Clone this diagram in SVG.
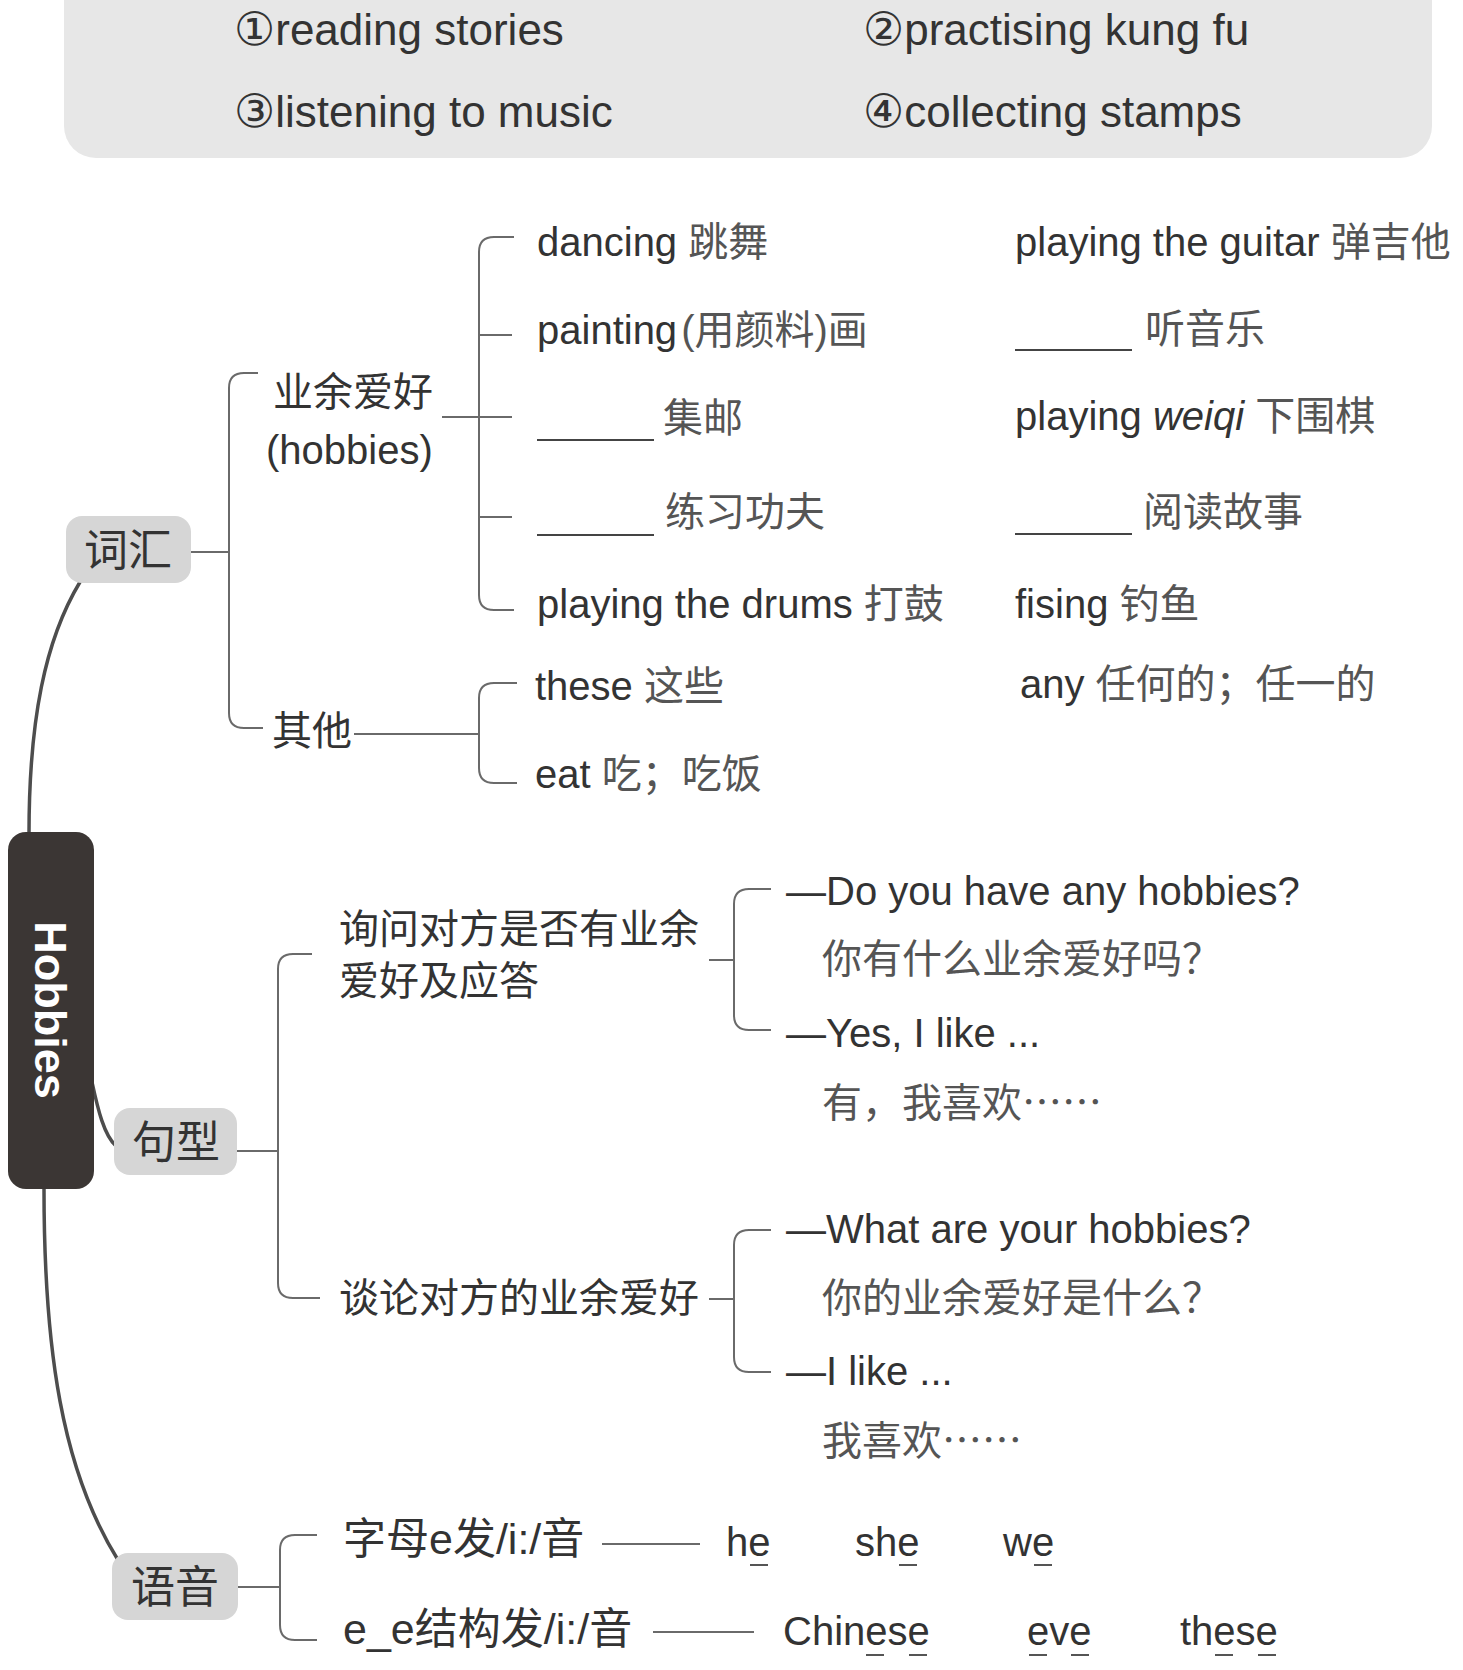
<svg xmlns="http://www.w3.org/2000/svg" width="1463" height="1670" viewBox="0 0 1463 1670" lang="zh-CN">
<style>
.t{font-family:"Liberation Sans","Noto Sans CJK SC",sans-serif;font-size:40px;fill:#333}
.zh{fill:#555}
.cjk{font-family:"Noto Sans CJK SC",sans-serif}
.top{font-size:44px}
.num{font-family:"DejaVu Sans",sans-serif;font-size:46px}
.nd{font-size:44px;text-anchor:middle;fill:#333}
.ph{font-size:43px}
.br{fill:none;stroke:#6a6a6a;stroke-width:2}
.main{fill:none;stroke:#4d4d4d;stroke-width:3.5;stroke-linecap:round}
.blank{stroke:#444;stroke-width:2}
.ul{stroke:#555;stroke-width:2}
.box{fill:#d6d6d6}
</style>
<rect width="1463" height="1670" fill="#ffffff"/>

<g id="top-options">
<rect x="64" y="-30" width="1368" height="188" rx="32" fill="#e7e7e7"/>
<text class="t top" x="234" y="45"><tspan class="num">①</tspan>reading stories</text>
<text class="t top" x="863" y="45"><tspan class="num">②</tspan>practising kung fu</text>
<text class="t top" x="234" y="127"><tspan class="num">③</tspan>listening to music</text>
<text class="t top" x="863" y="127"><tspan class="num">④</tspan>collecting stamps</text>
</g>

<g id="connectors">
<path class="main" d="M29 834 C29 720 45 640 80 582"/>
<path class="main" d="M92 1082 C98 1110 104 1135 116 1146"/>
<path class="main" d="M44 1189 C44 1350 62 1470 118 1560"/>
<path class="br" d="M191 552 L229 552"/>
<path class="br" d="M258 373 L244 373 Q229 373 229 388 L229 713 Q229 728 244 728 L263 728"/>
<path class="br" d="M442 417 L512 417"/>
<path class="br" d="M514 237 L494 237 Q479 237 479 252 L479 595 Q479 610 494 610 L514 610"/>
<path class="br" d="M479 335 L512 335 M479 517 L512 517"/>
<path class="br" d="M354 734 L479 734"/>
<path class="br" d="M517 683 L494 683 Q479 683 479 698 L479 768 Q479 783 494 783 L517 783"/>
<path class="br" d="M237 1151 L278 1151"/>
<path class="br" d="M312 954 L293 954 Q278 954 278 969 L278 1283 Q278 1298 293 1298 L320 1298"/>
<path class="br" d="M709 960 L734 960"/>
<path class="br" d="M771 889 L749 889 Q734 889 734 904 L734 1015 Q734 1030 749 1030 L771 1030"/>
<path class="br" d="M709 1299 L734 1299"/>
<path class="br" d="M771 1230 L749 1230 Q734 1230 734 1245 L734 1357 Q734 1372 749 1372 L771 1372"/>
<path class="br" d="M238 1587 L280 1587"/>
<path class="br" d="M317 1535 L295 1535 Q280 1535 280 1550 L280 1625 Q280 1640 295 1640 L317 1640"/>
<path class="br" d="M602 1544 L700 1544"/>
<path class="br" d="M653 1632 L754 1632"/>
</g>

<g id="node-hobbies">
<rect x="8" y="832" width="86" height="357" rx="18" fill="#3b3634"/>
<text transform="translate(35,1010) rotate(90)" text-anchor="middle" font-family="Liberation Sans, Arial, sans-serif" font-weight="bold" font-size="45" fill="#ffffff">Hobbies</text>
</g>

<g id="node-cihui">
<rect class="box" x="66" y="516" width="125" height="67" rx="16"/>
<text class="t nd" x="128" y="566">词汇</text>
</g>
<g id="node-juxing">
<rect class="box" x="114" y="1108" width="123" height="67" rx="16"/>
<text class="t nd" x="176" y="1158">句型</text>
</g>
<g id="node-yuyin">
<rect class="box" x="112" y="1553" width="126" height="67" rx="16"/>
<text class="t nd" x="175" y="1603">语音</text>
</g>

<g id="node-hobbies-vocab">
<text class="t" x="273" y="406">业余爱好</text>
<text class="t" x="266" y="464">(hobbies)</text>
</g>
<g id="node-others">
<text class="t" x="272" y="745">其他</text>
</g>

<g id="vocab-items">
<text class="t" x="537" y="256">dancing <tspan class="zh">跳舞</tspan></text>
<text class="t" x="537" y="344">painting<tspan class="zh" dx="4">(用颜料)画</tspan></text>
<line class="blank" x1="537" y1="440" x2="654" y2="440"/>
<text class="t zh" x="663" y="432">集邮</text>
<line class="blank" x1="537" y1="535" x2="654" y2="535"/>
<text class="t zh" x="665" y="526">练习功夫</text>
<text class="t" x="537" y="618">playing the drums <tspan class="zh">打鼓</tspan></text>

<text class="t" x="1015" y="256">playing the guitar <tspan class="zh">弹吉他</tspan></text>
<line class="blank" x1="1015" y1="350" x2="1132" y2="350"/>
<text class="t zh" x="1145" y="343">听音乐</text>
<text class="t" x="1015" y="430">playing <tspan font-style="italic">weiqi</tspan> <tspan class="zh">下围棋</tspan></text>
<line class="blank" x1="1015" y1="534" x2="1132" y2="534"/>
<text class="t zh" x="1143" y="526">阅读故事</text>
<text class="t" x="1015" y="618">fising <tspan class="zh">钓鱼</tspan></text>

<text class="t" x="535" y="700">these <tspan class="zh">这些</tspan></text>
<text class="t" x="535" y="788">eat <tspan class="zh">吃；吃饭</tspan></text>
<text class="t" x="1020" y="698">any <tspan class="zh">任何的；任一的</tspan></text>
</g>

<g id="node-ask">
<text class="t" x="339" y="943">询问对方是否有业余</text>
<text class="t" x="339" y="995">爱好及应答</text>
</g>
<g id="node-talk">
<text class="t" x="339" y="1312">谈论对方的业余爱好</text>
</g>

<g id="sentences">
<text class="t" x="786" y="905">—Do you have any hobbies?</text>
<text class="t zh" x="822" y="973">你有什么业余爱好吗？</text>
<text class="t" x="786" y="1047">—Yes, I like ...</text>
<text class="t zh" x="822" y="1117">有，我喜欢<tspan class="cjk">……</tspan></text>
<text class="t" x="786" y="1243">—What are your hobbies?</text>
<text class="t zh" x="822" y="1312">你的业余爱好是什么？</text>
<text class="t" x="786" y="1385">—I like ...</text>
<text class="t zh" x="822" y="1455">我喜欢<tspan class="cjk">……</tspan></text>
</g>

<g id="phonics">
<text class="t ph" x="343" y="1554">字母e发/i:/音</text>
<text class="t ph" x="343" y="1644">e_e结构发/i:/音</text>
<text class="t" x="726" y="1556">he</text>
<text class="t" x="855" y="1556">she</text>
<text class="t" x="1003" y="1556">we</text>
<line class="ul" x1="750" y1="1565" x2="768" y2="1565"/>
<line class="ul" x1="899" y1="1565" x2="917" y2="1565"/>
<line class="ul" x1="1034" y1="1565" x2="1052" y2="1565"/>
<text class="t" x="783" y="1645">Chinese</text>
<text class="t" x="1027" y="1645">eve</text>
<text class="t" x="1180" y="1645">these</text>
<line class="ul" x1="866" y1="1655" x2="884" y2="1655"/>
<line class="ul" x1="909" y1="1655" x2="927" y2="1655"/>
<line class="ul" x1="1029" y1="1655" x2="1047" y2="1655"/>
<line class="ul" x1="1071" y1="1655" x2="1089" y2="1655"/>
<line class="ul" x1="1215" y1="1655" x2="1233" y2="1655"/>
<line class="ul" x1="1258" y1="1655" x2="1276" y2="1655"/>
</g>
</svg>
